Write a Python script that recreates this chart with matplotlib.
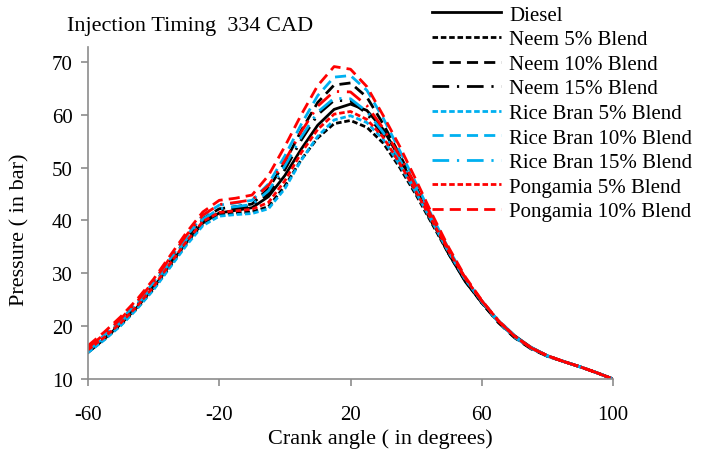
import numpy as np
import matplotlib
matplotlib.use("Agg")
import matplotlib.pyplot as plt

# crank angle (degrees)
crank = [-60, -55, -50, -45, -40, -35, -30, -25, -20, -15, -10, -5, 0, 5, 10, 15, 20,
         25, 30, 35, 40, 45, 50, 55, 60, 65, 70, 75, 80, 85, 90, 95, 100]

# pressure (bar)
diesel = [15.0, 17.6, 20.4, 23.6, 27.3, 31.6, 35.8, 39.5, 41.4, 41.9, 42.4, 44.5, 48.5, 53.5, 58.0, 61.0, 62.0,
          60.8, 57.2, 51.8, 45.8, 39.7, 33.6, 28.4, 24.5, 21.0, 18.2, 16.0, 14.4, 13.3, 12.3, 11.2, 10.0]
neem5 = [15.2, 17.5, 20.2, 23.4, 27.0, 31.3, 35.6, 39.3, 41.1, 41.4, 41.6, 42.6, 46.5, 51.5, 55.6, 58.3, 58.9,
         57.6, 54.6, 50.0, 44.8, 39.2, 33.6, 28.5, 24.4, 20.8, 17.9, 15.8, 14.3, 13.3, 12.3, 11.2, 10.0]
neem10 = [15.4, 17.9, 20.8, 24.1, 27.9, 32.2, 36.5, 40.3, 42.2, 42.6, 43.1, 46.0, 51.0, 57.0, 62.3, 65.6, 66.0,
          63.3, 58.2, 52.4, 46.3, 40.0, 34.0, 28.7, 24.4, 20.7, 17.8, 15.7, 14.3, 13.3, 12.3, 11.2, 10.0]
neem15 = [15.1, 17.7, 20.6, 23.9, 27.6, 31.9, 36.2, 40.0, 41.8, 42.2, 42.7, 45.0, 49.6, 55.2, 60.0, 62.7, 62.6,
          60.2, 56.0, 50.8, 45.2, 39.4, 33.7, 28.6, 24.5, 20.9, 18.0, 15.9, 14.4, 13.3, 12.3, 11.2, 10.0]
rice5 = [15.0, 17.4, 20.1, 23.3, 26.9, 31.1, 35.3, 39.0, 40.8, 41.1, 41.3, 42.2, 46.0, 51.4, 55.9, 59.0, 59.8,
         58.5, 55.3, 50.5, 45.2, 39.6, 33.9, 28.8, 24.7, 21.1, 18.1, 15.9, 14.4, 13.3, 12.3, 11.2, 10.0]
rice10 = [15.8, 18.3, 21.2, 24.5, 28.3, 32.7, 37.0, 40.9, 42.9, 43.3, 43.8, 46.9, 52.2, 58.2, 63.6, 67.1, 67.4,
          64.6, 59.3, 53.2, 47.0, 40.6, 34.5, 29.0, 24.6, 20.8, 17.9, 15.8, 14.3, 13.3, 12.3, 11.2, 10.0]
rice15 = [15.3, 17.9, 20.8, 24.1, 27.8, 32.1, 36.4, 40.2, 42.2, 42.6, 43.0, 45.6, 50.3, 55.8, 60.5, 63.1, 63.0,
          60.6, 56.6, 51.5, 45.9, 40.0, 34.2, 29.0, 24.8, 21.2, 18.2, 16.0, 14.4, 13.3, 12.3, 11.2, 10.0]
pong5 = [15.5, 17.9, 20.6, 23.8, 27.5, 31.8, 36.0, 39.8, 41.5, 41.8, 42.1, 43.4, 47.5, 52.8, 57.2, 60.1, 60.6,
         59.1, 55.7, 50.8, 45.4, 39.8, 34.1, 29.0, 24.8, 21.1, 18.1, 15.9, 14.4, 13.3, 12.3, 11.2, 10.0]
pong10 = [16.3, 18.9, 21.8, 25.1, 28.9, 33.3, 37.7, 41.6, 43.8, 44.2, 44.8, 48.5, 54.0, 60.0, 65.5, 69.1, 68.6,
          65.3, 59.8, 54.0, 47.6, 41.0, 34.8, 29.3, 24.9, 21.0, 18.1, 15.9, 14.4, 13.3, 12.3, 11.2, 10.0]
pong15 = [15.9, 18.5, 21.4, 24.7, 28.5, 32.9, 37.2, 41.0, 43.0, 43.4, 43.9, 46.6, 51.3, 56.8, 61.6, 64.4, 64.3,
          61.7, 57.4, 52.2, 46.4, 40.4, 34.4, 29.1, 24.8, 21.0, 18.1, 15.9, 14.4, 13.3, 12.3, 11.2, 10.0]

labels = ["Diesel", "Neem 5% Blend", "Neem 10% Blend", "Neem 15% Blend",
          "Rice Bran 5% Blend", "Rice Bran 10% Blend", "Rice Bran 15% Blend",
          "Pongamia 5% Blend", "Pongamia 10% Blend", "_Pongamia 15% Blend"]
xticks = [-60, -20, 20, 60, 100]
yticks = [10, 20, 30, 40, 50, 60, 70]

plt.rcParams['font.family'] = ['Liberation Serif', 'DejaVu Serif']
plt.rcParams['axes.unicode_minus'] = False

BLUE = '#00B0F0'
short = (2.0, 1.0)
long_ = (4.0, 2.2)
dashdot = (6, 2.8, 0.8, 2.8)

series = [(diesel, 'black', None), (neem5, 'black', short), (neem10, 'black', long_),
          (neem15, 'black', dashdot), (rice5, BLUE, short), (rice10, BLUE, long_),
          (rice15, BLUE, dashdot), (pong5, 'red', short), (pong10, 'red', long_),
          (pong15, 'red', dashdot)]

fig = plt.figure(figsize=(7.22, 4.52), dpi=100)
ax = fig.add_axes([88/722, 1 - 380/452, 525/722, 332/452])

for (y, col, dash), lab in zip(series, labels):
    line, = ax.plot(crank, y, color=col, lw=2.0, label=lab)
    if dash is not None:
        line.set_dashes(dash)

ax.set_xlim(-60, 100)
ax.set_ylim(10, 72.8)
ax.set_xticks(xticks)
ax.set_xticklabels([str(v) for v in xticks])
ax.set_yticks(yticks)

for s in ['top', 'right']:
    ax.spines[s].set_visible(False)
for s in ['left', 'bottom']:
    ax.spines[s].set_color('#8c8c8c')
    ax.spines[s].set_linewidth(1.2)
ax.tick_params(colors='#8c8c8c', labelcolor='black', labelsize=15, length=5, width=1.2)
ax.tick_params(axis='x', pad=14)
ax.tick_params(axis='y', pad=6)

fig.text(380/722, 1 - 439/452, "Crank angle ( in degrees)", fontsize=16, ha='center', va='center')
fig.text(20/722, 1 - 230/452, "Pressure ( in bar)", rotation=90, fontsize=16,
         ha='center', va='center')
fig.text(67/722, 1 - 27/452, "Injection Timing  334 CAD", fontsize=16, ha='left', va='center')

fig.legend(loc='upper left', bbox_to_anchor=(430/722, 1 - 4/452), frameon=False,
           fontsize=15, handlelength=3.3, handletextpad=0.4, labelspacing=0.24,
           borderaxespad=0, borderpad=0.1)

plt.savefig("out.png", dpi=100)
